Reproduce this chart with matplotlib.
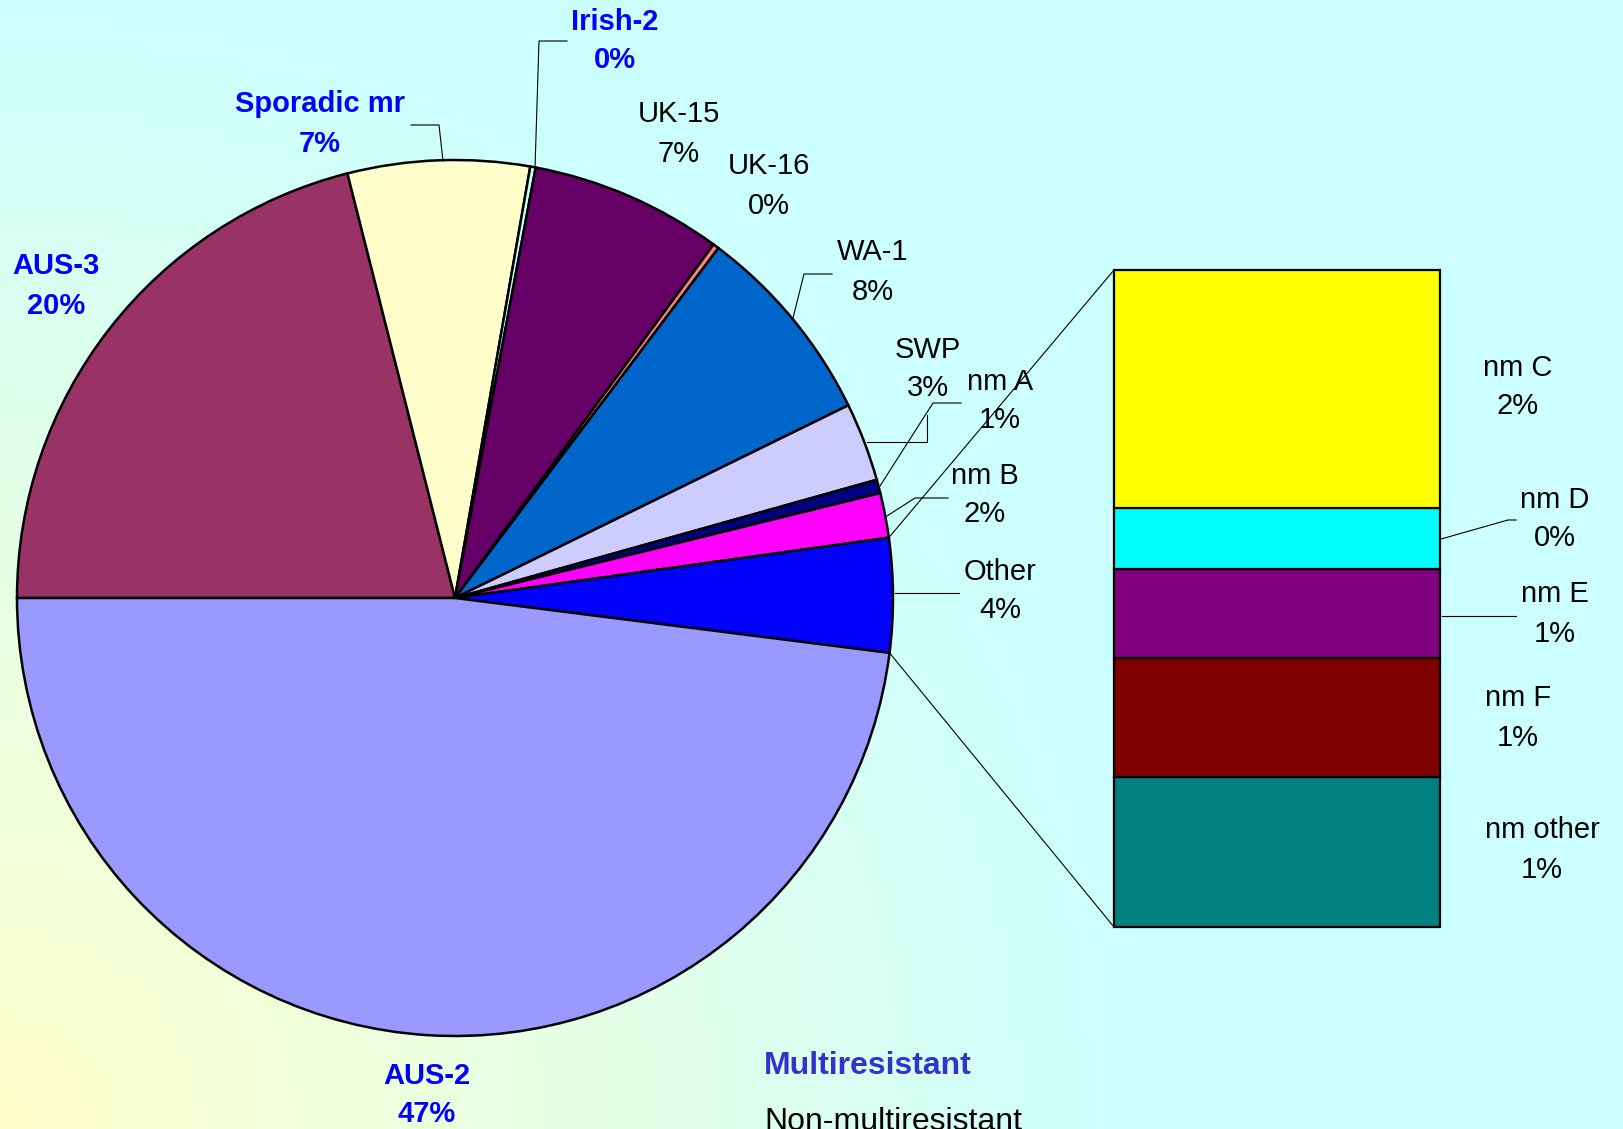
import numpy as np
import matplotlib
matplotlib.use('Agg')
import matplotlib.pyplot as plt

plt.rcParams['font.family'] = ['Liberation Sans', 'DejaVu Sans']

# ---------------------------------------------------------
# data (share of isolates, %)
# ---------------------------------------------------------
pie_names = ['AUS-3', 'Sporadic mr', 'Irish-2', 'UK-15', 'UK-16', 'WA-1',
             'SWP', 'nm A', 'nm B', 'Other', 'AUS-2']
pie_values = [21.05, 6.7, 0.2, 7.1, 0.22, 7.48, 2.9, 0.5, 1.65, 4.2, 48.0]
pie_labels = ['20%', '7%', '0%', '7%', '0%', '8%', '3%', '1%', '2%', '4%', '47%']
pie_colors = ['#993366', '#FFFFCC', '#CCFFFF', '#660066', '#FF8080', '#0066CC',
              '#CCCCFF', '#000080', '#FF00FF', '#0000FF', '#9999FF']
multires = ['AUS-3', 'Sporadic mr', 'Irish-2', 'AUS-2']

bar_names = ['nm C', 'nm D', 'nm E', 'nm F', 'nm other']
bar_values = [1.52, 0.39, 0.57, 0.76, 0.96]
bar_labels = ['2%', '0%', '1%', '1%', '1%']
bar_colors = ['#FFFF00', '#00FFFF', '#800080', '#800000', '#008080']

W, H = 1623, 1129


def Y(py):
    # pixel row (top-down) -> data y (bottom-up)
    return H - py


fig = plt.figure(figsize=(W / 100, H / 100), dpi=100)

# background: yellow in the lower-left corner fading to cyan
bg = fig.add_axes([0, 0, 1, 1])
xx, yy = np.meshgrid(np.arange(W), np.arange(H))
t = np.clip(np.hypot(xx, H - yy) / 1150.0, 0, 1)[..., None]
yellow = np.array([255, 255, 204]) / 255
cyan = np.array([204, 255, 255]) / 255
bg.imshow(yellow * (1 - t) + cyan * t, extent=[0, W, 0, H], origin='upper', aspect='auto')
bg.axis('off')

ax = fig.add_axes([0, 0, 1, 1])
ax.patch.set_alpha(0)

# ---------------------------------------------------------
# main pie
# ---------------------------------------------------------
cx, cy, r = 455, Y(598), 438
wedges, _ = ax.pie(pie_values, colors=pie_colors, startangle=180, counterclock=False,
                   center=(cx, cy), radius=r, frame=True,
                   wedgeprops=dict(edgecolor='black', linewidth=1.8))

# ---------------------------------------------------------
# secondary stacked bar (breakdown of "Other")
# ---------------------------------------------------------
bx0, bx1 = 1114, 1440
by_top, by_bot = 270, 927
scale = (by_bot - by_top) / sum(bar_values)
bottom = Y(by_bot)
for name, v, c in zip(reversed(bar_names), reversed(bar_values), reversed(bar_colors)):
    ax.bar((bx0 + bx1) / 2, v * scale, width=bx1 - bx0, bottom=bottom,
           color=c, edgecolor='black', linewidth=1.6)
    bottom += v * scale

# connector lines from the "Other" wedge to the bar
w_other = wedges[pie_names.index('Other')]
for ang, by in [(w_other.theta2, by_top), (w_other.theta1, by_bot)]:
    a = np.deg2rad(ang)
    ax.plot([cx + r * np.cos(a), bx0], [cy + r * np.sin(a), Y(by)],
            color='black', linewidth=0.8)

# ---------------------------------------------------------
# labels
# ---------------------------------------------------------
label_pos = {
    'AUS-3': (56, 286), 'Sporadic mr': (320, 124), 'Irish-2': (615, 41),
    'UK-15': (679, 134), 'UK-16': (769, 186), 'WA-1': (873, 272),
    'SWP': (928, 369), 'nm A': (1000, 401), 'nm B': (985, 495),
    'Other': (1000, 591), 'AUS-2': (427, 1095),
    'nm C': (1518, 387), 'nm D': (1555, 519), 'nm E': (1555, 614),
    'nm F': (1518, 718), 'nm other': (1542, 850),
}
for name, lab in zip(pie_names + bar_names, pie_labels + bar_labels):
    px, py = label_pos[name]
    bold = name in multires
    ax.text(px, Y(py), f'{name}\n{lab}', ha='center', va='center', multialignment='center',
            fontsize=21, linespacing=1.5, fontweight='bold' if bold else 'normal',
            color='#0000FF' if bold else 'black', zorder=5)

leaders = [
    [(535, 168), (539, 41), (567, 41)],
    [(443, 161), (439, 125), (411, 125)],
    [(793, 318), (804, 274), (832, 274)],
    [(867, 442), (927, 442), (927, 415)],
    [(880, 486), (933, 403), (961, 403)],
    [(887, 516), (915, 498), (948, 498)],
    [(895, 593), (959, 593)],
    [(1441, 539), (1508, 520), (1516, 520)],
    [(1442, 616), (1516, 616)],
]
for pts in leaders:
    ax.plot([p[0] for p in pts], [Y(p[1]) for p in pts], color='black', linewidth=0.8)

ax.text(764, Y(1066), 'Multiresistant', fontsize=23, fontweight='bold', color='#3333CC',
        ha='left', va='center')
ax.text(764, Y(1122), 'Non-multiresistant', fontsize=23, color='black',
        ha='left', va='center')

ax.set_xlim(0, W)
ax.set_ylim(0, H)
ax.set_aspect('auto')
ax.axis('off')

plt.savefig('out.png', dpi=100)
